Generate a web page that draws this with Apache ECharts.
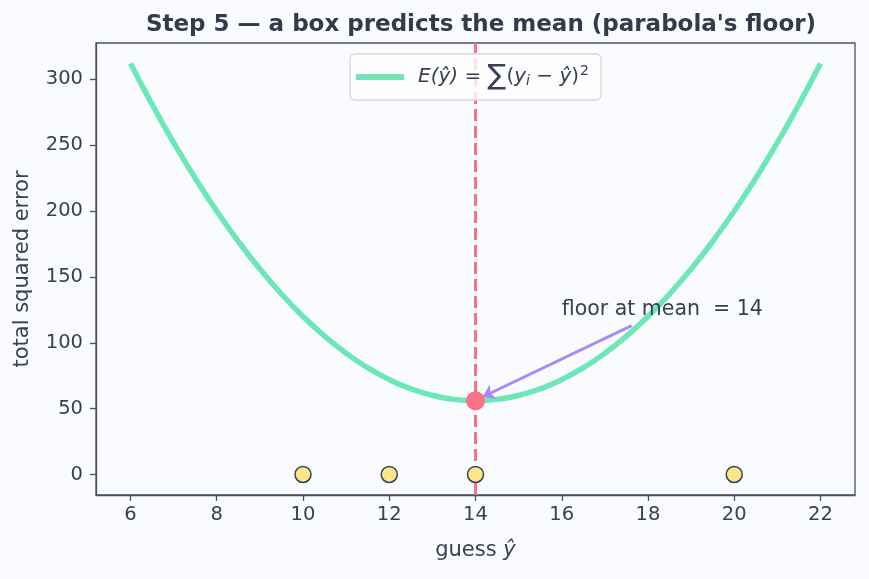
<!DOCTYPE html>
<html><head><meta charset="utf-8">
<script src="https://cdn.jsdelivr.net/npm/echarts@6/dist/echarts.min.js"></script>
<style>html,body{margin:0;padding:0;background:#fafbfe}#c{width:869px;height:579px}</style>
</head><body><div id="c"></div>
<script>
// guesses along the x axis and the total squared error
const guessX   = [6,6.5,7,7.5,8,8.5,9,9.5,10,10.5,11,11.5,12,12.5,13,13.5,14,14.5,15,15.5,16,16.5,17,17.5,18,18.5,19,19.5,20,20.5,21,21.5,22];
const totalErr = [312,281,252,225,200,177,156,137,120,105,92,81,72,65,60,57,56,57,60,65,72,81,92,105,120,137,156,177,200,225,252,281,312];
// observed box values (plotted on y = 0)
const obsValues = [10,12,14,20];
const obsLevel = [0,0,0,0];
const meanValue = 14;
const floorError = 56;
const xTicks = [6,8,10,12,14,16,18,20,22];
const yTicks = [0,50,100,150,200,250,300];
const annotText = 'floor at mean  = 14';
const annotAt = [16, 125];
const arrowFrom = [17.62, 113];
const arrowTo = [14.16, 58.8];

const FONT = 'DejaVu Sans';
const TXT = '#374151';
const AX = '#4b5160';

const chart = echarts.init(document.getElementById('c'), null, {renderer:'canvas'});
chart.setOption({
  backgroundColor: '#fafbfe',
  animation: false,
  title: {
    text: 'Step 5 — a box predicts the mean (parabola\'s floor)',
    left: 476, top: 9, textAlign: 'center',
    textStyle: {fontFamily: FONT, fontSize: 23, fontWeight: 'bold', color: '#333b4b'}
  },
  grid: {left: 96, right: 14, top: 43, bottom: 84, show: true, borderColor: AX, borderWidth: 1.3, backgroundColor: 'transparent'},
  legend: {
    left: 350, top: 54,
    padding: [9, 12, 9, 6],
    backgroundColor: 'rgba(255,255,255,0.8)',
    borderColor: '#d4d7dd', borderWidth: 1.3, borderRadius: 5,
    itemWidth: 48, itemHeight: 6, itemGap: 10,
    icon: 'rect',
    data: ['curve'],
    formatter: function(){ return '{it|E(ŷ)} = {big|∑}({it|y}{sub|i} − {it|ŷ}){sup|2}'; },
    textStyle: {
      fontFamily: FONT, fontSize: 20, color: TXT, padding: [0,0,0,9],
      rich: {
        it: {fontFamily: FONT, fontSize: 20, fontStyle: 'italic', color: TXT},
        big: {fontFamily: FONT, fontSize: 28, color: TXT},
        sub: {fontFamily: FONT, fontSize: 14, fontStyle: 'italic', color: TXT, padding: [9,0,0,0]},
        sup: {fontFamily: FONT, fontSize: 14, color: TXT, padding: [0,0,11,1]}
      }
    }
  },
  xAxis: {
    type: 'value', min: 5.2, max: 22.8,
    name: 'guess {it|ŷ}', nameLocation: 'middle', nameGap: 45,
    nameTextStyle: {fontFamily: FONT, fontSize: 21, color: TXT,
      rich: {it: {fontFamily: FONT, fontSize: 21, fontStyle: 'italic', color: TXT}}},
    axisLine: {show: true, onZero: false, lineStyle: {color: AX, width: 1.3}},
    axisTick: {show: true, length: 6, lineStyle: {color: AX, width: 1.3}, customValues: xTicks},
    axisLabel: {fontFamily: FONT, fontSize: 19.5, color: TXT, margin: 10, customValues: xTicks},
    splitLine: {show: false}
  },
  yAxis: {
    type: 'value', min: -15.6, max: 327.6,
    name: 'total squared error', nameLocation: 'middle', nameGap: 63,
    nameTextStyle: {fontFamily: FONT, fontSize: 21, color: TXT},
    axisLine: {show: true, onZero: false, lineStyle: {color: AX, width: 1.3}},
    axisTick: {show: true, length: 6, lineStyle: {color: AX, width: 1.3}, customValues: yTicks},
    axisLabel: {fontFamily: FONT, fontSize: 19.5, color: TXT, margin: 13, customValues: yTicks},
    splitLine: {show: false}
  },
  series: [
    {
      name: 'curve', type: 'line', smooth: true, showSymbol: false, symbol: 'none',
      data: guessX.map((x, i) => [x, totalErr[i]]),
      lineStyle: {color: '#6ee7b7', width: 5.5}, itemStyle: {color: '#6ee7b7'},
      z: 2,
      markLine: {
        silent: true, symbol: ['none','none'], label: {show: false},
        lineStyle: {color: '#f87185', width: 3, type: [12, 5]},
        data: [{xAxis: meanValue}], z: 3
      }
    },
    {
      name: 'arrow', type: 'line', data: [], z: 4,
      markLine: {
        silent: true, symbol: ['none', 'arrow'], symbolSize: 12, label: {show: false},
        lineStyle: {color: '#a78bfa', width: 3, type: 'solid'},
        data: [[{coord: arrowFrom}, {coord: arrowTo}]]
      }
    },
    {
      name: 'floor', type: 'scatter', data: [[meanValue, floorError]],
      symbolSize: 19, itemStyle: {color: '#fb7185', opacity: 1}, z: 6
    },
    {
      name: 'obs', type: 'scatter', data: obsValues.map((x, i) => [x, obsLevel[i]]),
      symbolSize: 16, itemStyle: {color: '#fde68a', borderColor: '#374151', borderWidth: 1.5, opacity: 1}, z: 6
    },
    {
      name: 'annot', type: 'scatter', data: [annotAt], symbolSize: 0, silent: true, z: 7,
      itemStyle: {opacity: 1},
      label: {show: true, position: 'right', distance: 0, formatter: annotText,
        fontFamily: FONT, fontSize: 20.5, color: TXT, opacity: 1}
    }
  ]
});
</script></body></html>
